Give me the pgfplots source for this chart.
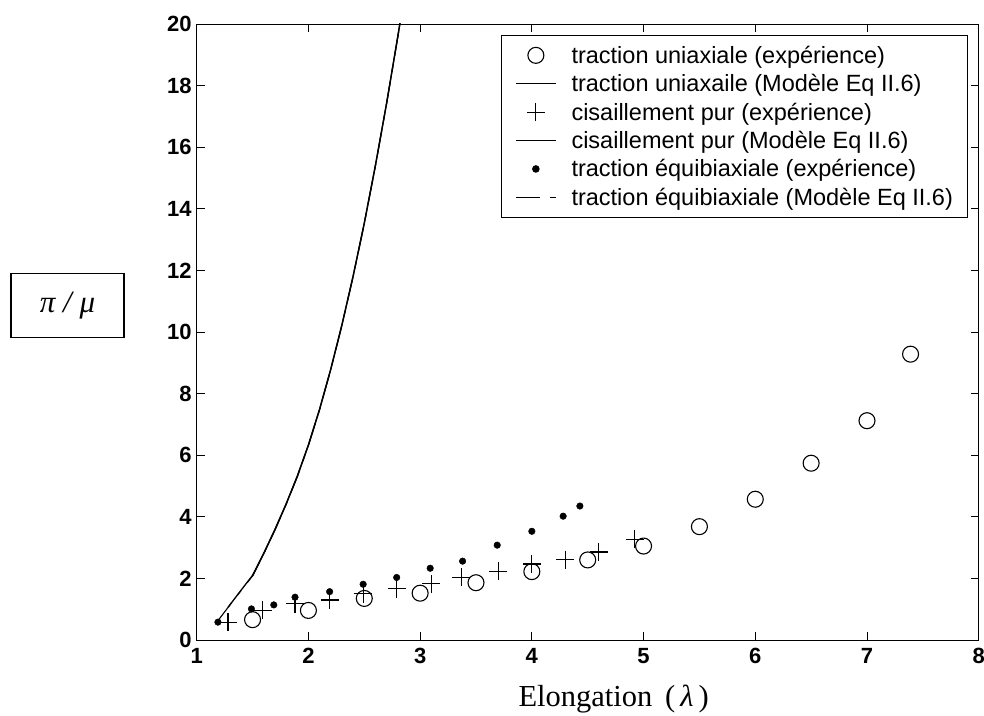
\documentclass[border=0pt]{standalone}
\usepackage{fontspec}
\setmainfont{Liberation Sans}
\newfontfamily\timesfont{Liberation Serif}
\usepackage{pgfplots}
\pgfplotsset{compat=1.18}

\pgfplotstableread{
x y
1.5 0.66
2.0 0.96
2.5 1.35
3.0 1.52
3.5 1.86
4.0 2.22
4.5 2.60
5.0 3.05
5.5 3.68
6.0 4.57
6.5 5.74
7.0 7.12
7.39 9.28
}\uniexp

\pgfplotstableread{
x y
1.28 0.58
1.59 0.96
1.88 1.18
2.19 1.30
2.49 1.50
2.79 1.66
3.10 1.83
3.37 2.03
3.70 2.23
4.00 2.47
4.30 2.61
4.60 2.86
4.92 3.27
}\shearexp

\pgfplotstableread{
x y
1.19 0.58
1.49 1.01
1.69 1.14
1.88 1.39
2.19 1.57
2.49 1.81
2.79 2.03
3.09 2.33
3.38 2.56
3.69 3.08
4.00 3.53
4.28 4.02
4.43 4.35
}\equiexp

\pgfplotstableread{
x y
1.50 2.08
1.60 2.80
1.70 3.57
1.80 4.40
1.90 5.30
2.00 6.32
2.10 7.48
2.20 8.78
2.30 10.22
2.40 11.80
2.50 13.52
2.60 15.40
2.70 17.42
2.80 19.58
2.83 20.25
}\unimodel

\pgfplotstableread{
x y
1.28 1.06
1.40 1.63
1.50 2.10
1.60 2.82
1.70 3.59
1.80 4.42
1.90 5.32
2.00 6.34
2.10 7.50
2.20 8.80
2.30 10.24
2.40 11.82
2.50 13.54
2.60 15.42
2.70 17.44
2.80 19.60
2.83 20.27
}\shearmodel

\pgfplotstableread{
x y
1.18 0.58
1.30 1.15
1.40 1.62
1.50 2.08
1.60 2.80
1.70 3.57
1.80 4.40
1.90 5.30
2.00 6.32
2.10 7.48
2.20 8.78
2.30 10.22
2.40 11.80
2.50 13.52
2.60 15.40
2.70 17.42
2.80 19.58
2.83 20.25
}\equimodel

\begin{document}
\begin{tikzpicture}[x=1pt,y=1pt]
\useasboundingbox (0,0) rectangle (984,715);
\begin{axis}[
  at={(196.7pt,75pt)}, anchor=south west,
  scale only axis, width=782pt, height=616pt,
  xmin=1, xmax=8, ymin=0, ymax=20,
  xtick={1,2,...,8}, ytick={0,2,...,20},
  tick align=inside, major tick length=8pt,
  every tick/.style={black, line width=0.9pt},
  axis line style={black, line width=0.9pt},
  /pgf/number format/assume math mode=true,
  ticklabel style={font=\fontsize{22}{22}\selectfont\bfseries},
  xticklabel style={yshift=-5pt},
  yticklabel style={xshift=-1.5pt},
  legend cell align=left,
  legend image code/.code={\draw[mark repeat=2,mark phase=2,#1] plot coordinates {(0pt,0pt) (20pt,0pt) (40pt,0pt)};},
  legend style={draw=black, line width=0.9pt, fill=white,
    at={(1,1)}, anchor=north east, xshift=-11.3pt, yshift=-11pt,
    font=\fontsize{23.5}{23.5}\selectfont,
    inner xsep=14pt, inner ysep=10.5pt, row sep=9.6pt,
    nodes={inner sep=0pt},
    /tikz/every odd column/.append style={column sep=15pt}},
]
\addplot[only marks, mark=o, mark size=8pt, mark options={line width=1.1pt}] table {\uniexp};
\addlegendentry{traction uniaxiale (expérience)}
\addplot[black, line width=1.3pt, line join=round] table {\unimodel};
\addlegendentry{traction uniaxaile (Modèle Eq II.6)}
\addplot[only marks, mark=+, mark size=9pt, mark options={line width=1.2pt}] table {\shearexp};
\addlegendentry{cisaillement pur (expérience)}
\addplot[black, line width=1.3pt, line join=round] table {\shearmodel};
\addlegendentry{cisaillement pur (Modèle Eq II.6)}
\addplot[only marks, mark=*, mark size=3.3pt, black] table {\equiexp};
\addlegendentry{traction équibiaxiale (expérience)}
\addplot[black, line width=1.1pt, dash pattern=on 24pt off 10pt on 6pt off 10pt] table {\equimodel};
\addlegendentry{traction équibiaxiale (Modèle Eq II.6)}
\end{axis}
\draw[line width=1.1pt] (11,377.3) rectangle (124,441.7);
\node[font=\timesfont\fontsize{31}{31}\selectfont\itshape] at (67.5,409.5) {π / μ};
\node[anchor=base west, font=\timesfont\fontsize{30.5}{30.5}\selectfont] at (515,8.3) {Elongation \,(\,\textit{λ}\,)};
\end{tikzpicture}
\end{document}
